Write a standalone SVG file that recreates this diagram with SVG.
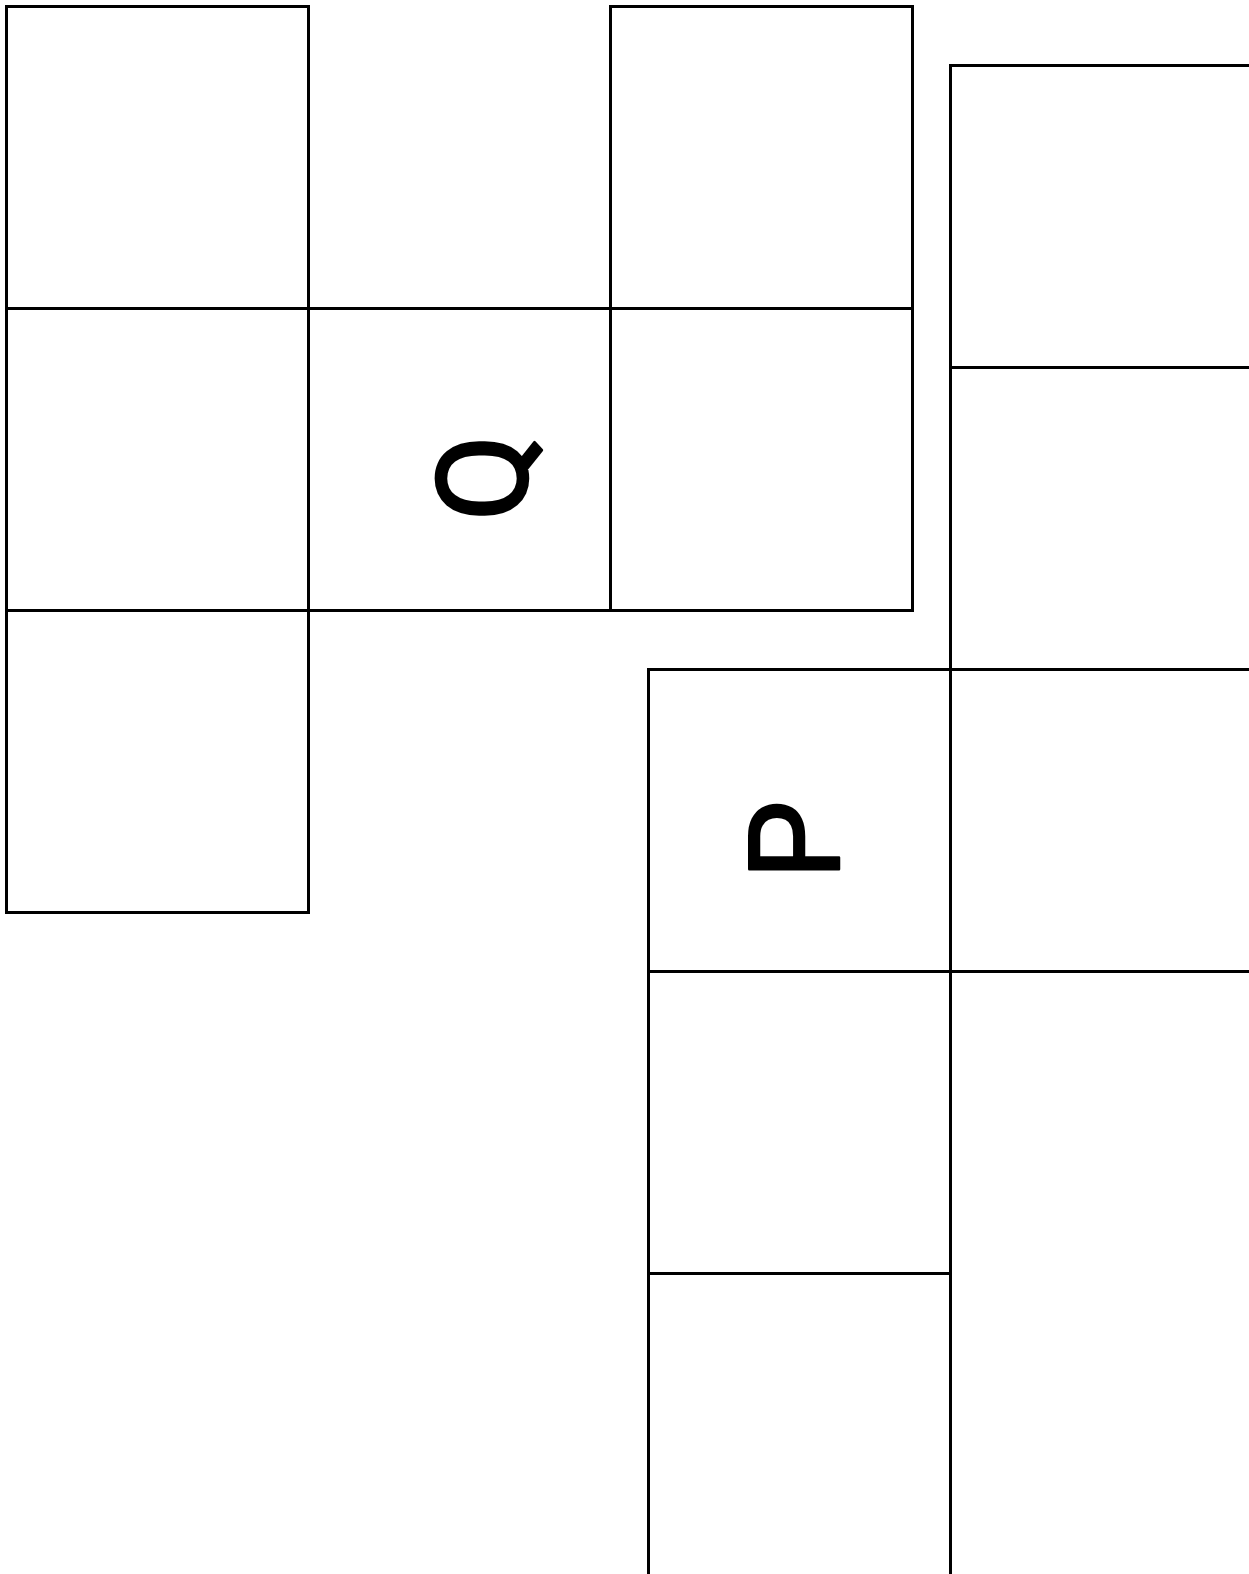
<svg xmlns="http://www.w3.org/2000/svg" width="1249" height="1574" viewBox="0 0 1249 1574">
<style>
.cell{fill:none;stroke:#000;stroke-width:3}
.lbl{font-family:Roboto,"Noto Sans",sans-serif;font-size:126px;fill:#000;stroke:#000;stroke-width:2.5;stroke-linejoin:round;text-anchor:middle}
</style>
<rect width="1249" height="1574" fill="#fff"/>
<g id="left-column">
<rect id="c-l1" class="cell" x="6.5" y="6.5" width="302" height="302"/>
<rect id="c-l2" class="cell" x="6.5" y="308.5" width="302" height="302"/>
<rect id="c-l3" class="cell" x="6.5" y="610.5" width="302" height="302"/>
</g>
<g id="node-Q">
<rect class="cell" x="308.5" y="308.5" width="302" height="302"/>
<text class="lbl" transform="translate(527,478) rotate(-90)" x="0" y="0">Q</text>
</g>
<g id="third-column">
<rect id="c-t1" class="cell" x="610.5" y="6.5" width="302" height="302"/>
<rect id="c-t2" class="cell" x="610.5" y="308.5" width="302" height="302"/>
</g>
<g id="right-column">
<rect id="c-r1" class="cell" x="950.5" y="65.5" width="302" height="302"/>
<rect id="c-r2" class="cell" x="950.5" y="367.5" width="302" height="302"/>
<rect id="c-r3" class="cell" x="950.5" y="669.5" width="302" height="302"/>
<rect id="c-r4" class="cell" x="950.5" y="971.5" width="302" height="700"/>
</g>
<g id="node-P">
<rect class="cell" x="648.5" y="669.5" width="302" height="302"/>
<text class="lbl" transform="translate(839,840) rotate(-90)" x="0" y="0">P</text>
</g>
<g id="p-column">
<rect id="c-p2" class="cell" x="648.5" y="971.5" width="302" height="302"/>
<rect id="c-p3" class="cell" x="648.5" y="1273.5" width="302" height="302"/>
</g>
<g id="connectors"></g>
</svg>
